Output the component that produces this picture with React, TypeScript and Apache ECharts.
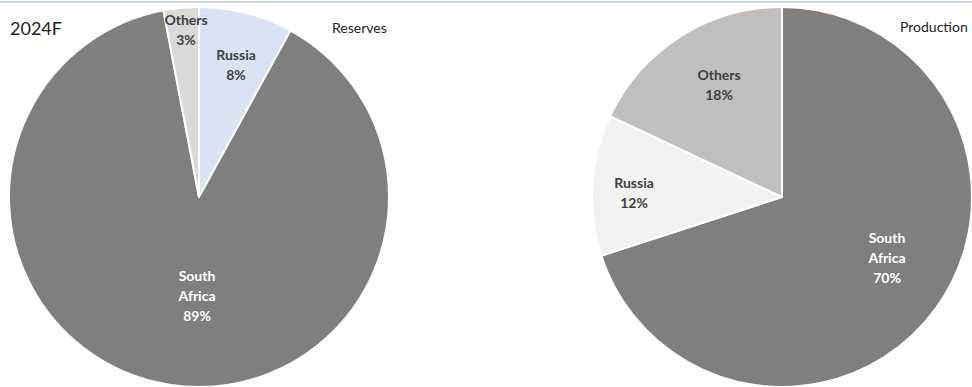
import React, { useEffect, useRef } from "react";
import * as echarts from "echarts";

// Data
const reserveNames = ["Russia", "South Africa", "Others"];
const reserveValues = [8, 89, 3];
const productionNames = ["South Africa", "Russia", "Others"];
const productionValues = [70, 12, 18];
const yearLabel = "2024F";
const reservesTitle = "Reserves";
const productionTitle = "Production";

// Styles
const reserveColors = ["#dae3f3", "#7f7f7f", "#d9d9d9"];
const reserveTextColors = ["#404040", "#ffffff", "#404040"];
const productionColors = ["#7f7f7f", "#f2f2f2", "#bfbfbf"];
const productionTextColors = ["#ffffff", "#404040", "#404040"];
const FONT = "Lato, 'Noto Sans', sans-serif";
const R = 190;
const leftCenter = [199, 197];
const rightCenter = [782, 197];
// label offsets from the pie centre
const reserveLabelOffsets = [
  [37, -133],
  [-2, 98],
  [-13, -168],
];
const productionLabelOffsets = [
  [105, 60],
  [-148, -5],
  [-63, -113],
];

function fmt(p: any) {
  return p.name.replace(" ", "\n") + "\n" + p.value + "%";
}

function makePie(
  names: string[],
  values: number[],
  colors: string[],
  textColors: string[],
  center: number[],
  offsets: number[][]
) {
  return {
    type: "pie",
    center: [center[0], center[1]],
    radius: [0, R],
    startAngle: 90,
    clockwise: true,
    silent: true,
    label: {
      show: true,
      position: "inside",
      formatter: fmt,
      fontFamily: FONT,
      fontWeight: "bold",
      fontSize: 14,
      lineHeight: 20,
      align: "center",
      verticalAlign: "middle",
    },
    labelLine: { show: false },
    labelLayout: (params: any) => {
      const o = offsets[params.dataIndex];
      return { x: center[0] + o[0], y: center[1] + o[1] };
    },
    itemStyle: { borderColor: "#ffffff", borderWidth: 2 },
    data: names.map((n, i) => ({
      name: n,
      value: values[i],
      itemStyle: { color: colors[i] },
      label: { color: textColors[i] },
    })),
  };
}

export default function App() {
  const ref = useRef<HTMLDivElement>(null);
  useEffect(() => {
    document.body.style.margin = "0";
    const chart = echarts.init(ref.current!, null, { renderer: "svg" });
    chart.setOption({
      animation: false,
      backgroundColor: "#ffffff",
      graphic: [
        {
          type: "line",
          shape: { x1: 0, y1: 2, x2: 972, y2: 2 },
          style: { stroke: "#c9d5e1", lineWidth: 2 },
        },
        {
          type: "text",
          x: 10,
          y: 28,
          style: {
            text: yearLabel,
            fontFamily: FONT,
            fontSize: 18,
            fill: "#222222",
            verticalAlign: "middle",
          },
        },
        {
          type: "text",
          x: 332,
          y: 27,
          style: {
            text: reservesTitle,
            fontFamily: FONT,
            fontSize: 14,
            fill: "#222222",
            verticalAlign: "middle",
          },
        },
        {
          type: "text",
          x: 900,
          y: 26,
          style: {
            text: productionTitle,
            fontFamily: FONT,
            fontSize: 14,
            fill: "#222222",
            verticalAlign: "middle",
          },
        },
      ],
      series: [
        makePie(reserveNames, reserveValues, reserveColors, reserveTextColors, leftCenter, reserveLabelOffsets),
        makePie(productionNames, productionValues, productionColors, productionTextColors, rightCenter, productionLabelOffsets),
      ],
    });
    return () => chart.dispose();
  }, []);
  return <div ref={ref} style={{ width: 972, height: 387 }} />;
}
